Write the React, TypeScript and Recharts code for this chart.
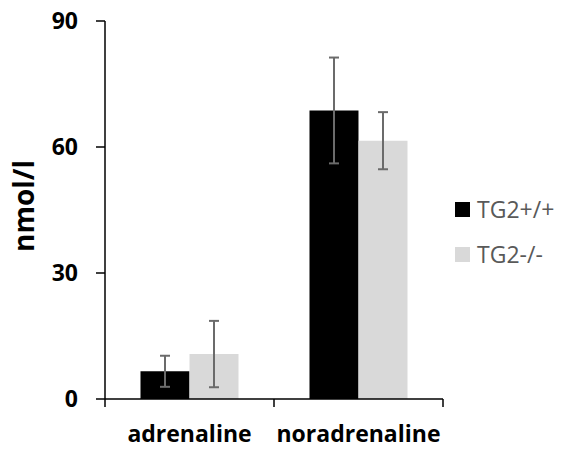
import { BarChart, Bar, XAxis, YAxis, ErrorBar, Legend } from 'recharts'

const categories = ['adrenaline', 'noradrenaline']
const wtValues = [6.6, 68.7]
const wtErrors = [3.7, 12.6]
const koValues = [10.7, 61.5]
const koErrors = [7.9, 6.8]
const yTicks = [0, 30, 60, 90]

const seriesNames = { wt: 'TG2+/+', ko: 'TG2-/-' }
const seriesColors = { wt: '#000000', ko: '#d9d9d9' }

const W = 564
const H = 450
const M = { top: 21, right: 121, bottom: 0, left: 0 }
const Y_W = 105
const X_H = 51
const BAND = (W - M.left - M.right - Y_W) / categories.length
const FONT = '"Open Sans", "Segoe UI", sans-serif'

const data = categories.map((c, i) => ({
  name: c,
  wt: wtValues[i],
  wtErr: wtErrors[i],
  ko: koValues[i],
  koErr: koErrors[i],
}))

function XTick(props: any) {
  const { x, y, payload, index } = props
  const half = BAND / 2
  return (
    <g>
      <line x1={x - half} y1={y} x2={x - half} y2={y + 8} stroke="#000" strokeWidth={1.5} />
      {index === categories.length - 1 && (
        <line x1={x + half} y1={y} x2={x + half} y2={y + 8} stroke="#000" strokeWidth={1.5} />
      )}
      <text x={x} y={y + 43} textAnchor="middle" fontFamily={FONT} fontWeight={700} fontSize={23} fill="#000">
        {payload.value}
      </text>
    </g>
  )
}

function LegendBox() {
  return (
    <div style={{ fontFamily: FONT, fontSize: 23, color: '#595959' }}>
      {(['wt', 'ko'] as const).map(k => (
        <div key={k} style={{ display: 'flex', alignItems: 'center', height: 45 }}>
          <span style={{ width: 15, height: 15, background: seriesColors[k], marginRight: 7, display: 'inline-block' }} />
          <span style={{ lineHeight: 1 }}>{seriesNames[k]}</span>
        </div>
      ))}
    </div>
  )
}

export default function App() {
  return (
    <div style={{ position: 'absolute', left: 0, top: 0, width: W, height: H, background: '#fff' }}>
      <BarChart width={W} height={H} data={data} margin={M} barCategoryGap="21%" barGap={0}>
        <XAxis
          dataKey="name"
          height={X_H}
          axisLine={{ stroke: '#000', strokeWidth: 1.5 }}
          tickLine={false}
          tickSize={0}
          tickMargin={0}
          tick={<XTick />}
          interval={0}
        />
        <YAxis
          width={Y_W}
          domain={[0, 90]}
          ticks={yTicks}
          axisLine={{ stroke: '#000', strokeWidth: 1.5 }}
          tickLine={{ stroke: '#000', strokeWidth: 1.5 }}
          tickSize={9}
          tickMargin={18}
          tick={{ fontFamily: FONT, fontWeight: 700, fontSize: 23, fill: '#000' }}
          label={{
            content: (p: any) => {
              const vb = p.viewBox
              const cx = 34
              const cy = vb.y + vb.height / 2 - 4
              return (
                <text x={cx} y={cy} transform={`rotate(-90 ${cx} ${cy})`} textAnchor="middle"
                  fontFamily={FONT} fontWeight={700} fontSize={28} fill="#000">
                  nmol/l
                </text>
              )
            },
          }}
        />
        <Legend
          layout="horizontal"
          align="center"
          verticalAlign="middle"
          content={<LegendBox />}
          wrapperStyle={{ left: 455, top: 187, width: 110 }}
        />
        <Bar dataKey="wt" name={seriesNames.wt} fill={seriesColors.wt} isAnimationActive={false}>
          <ErrorBar dataKey="wtErr" width={5} stroke="#6b6b6b" strokeWidth={2} direction="y" isAnimationActive={false} />
        </Bar>
        <Bar dataKey="ko" name={seriesNames.ko} fill={seriesColors.ko} isAnimationActive={false}>
          <ErrorBar dataKey="koErr" width={5} stroke="#6b6b6b" strokeWidth={2} direction="y" isAnimationActive={false} />
        </Bar>
      </BarChart>
    </div>
  )
}
